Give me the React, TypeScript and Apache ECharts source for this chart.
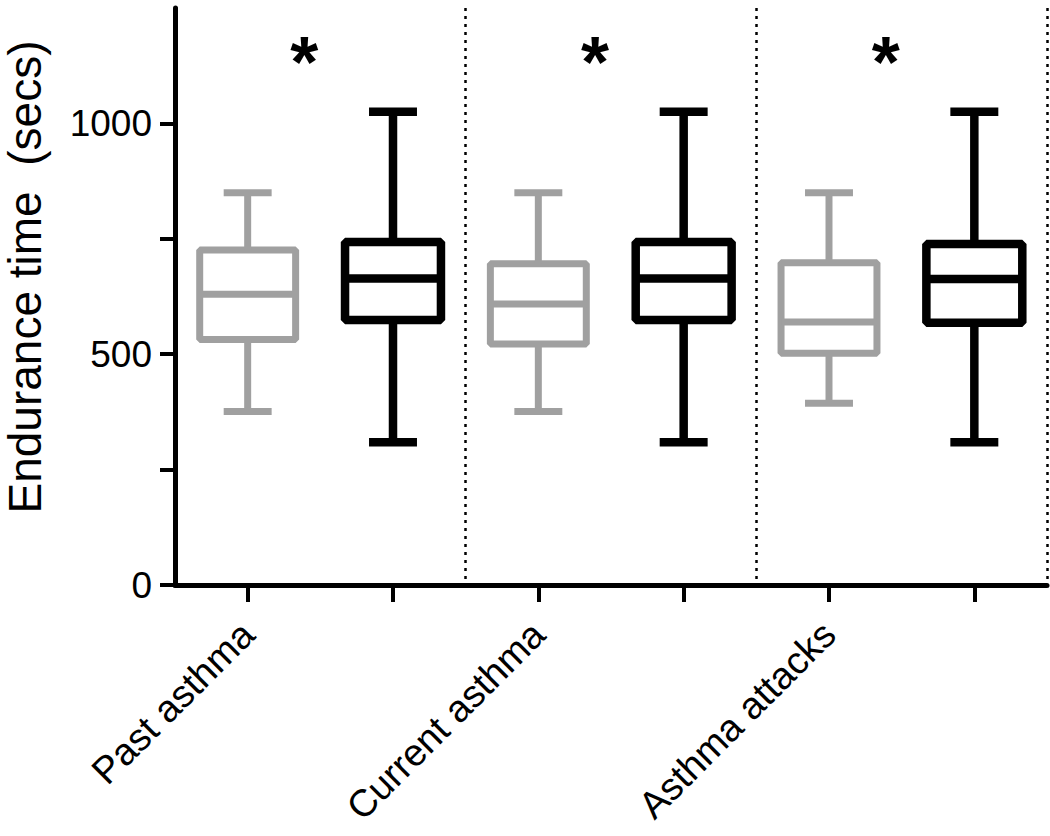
import React, { useEffect, useRef } from "react";
import * as echarts from "echarts";

const categories = ["Past asthma", "", "Current asthma", "", "Asthma attacks", ""];
const grayIdx = [0, 2, 4];
const blackIdx = [1, 3, 5];
const grayMin = [376, 376, 394];
const grayQ1 = [532, 522, 502];
const grayMed = [630, 609, 570];
const grayQ3 = [726, 696, 698];
const grayMax = [850, 850, 850];
const blackMin = [309, 309, 309];
const blackQ1 = [574, 574, 568];
const blackMed = [664, 664, 663];
const blackQ3 = [743, 743, 739];
const blackMax = [1025, 1025, 1025];
const sigIdx = [0, 2, 4];
const sigY = [1134, 1134, 1134];
const yTicks = [0, 250, 500, 750, 1000];
const yLabels = [0, 500, 1000];
const yTitle = "Endurance time  (secs)";

const FONT = "'Liberation Sans', Arial, sans-serif";

function makeBoxRender(color: string, lw: number) {
  return (params: any, api: any) => {
    const x = api.value(0);
    const band = api.size([1, 0])[0];
    const cx = api.coord([x, 0])[0];
    const yMin = api.coord([x, api.value(1)])[1];
    const yQ1 = api.coord([x, api.value(2)])[1];
    const yMed = api.coord([x, api.value(3)])[1];
    const yQ3 = api.coord([x, api.value(4)])[1];
    const yMax = api.coord([x, api.value(5)])[1];
    const bw = band * 0.66;
    const cw = band * 0.33;
    const st = { stroke: color, lineWidth: lw, fill: "none", lineJoin: "bevel" };
    return {
      type: "group",
      children: [
        { type: "rect", shape: { x: cx - bw / 2, y: yQ3, width: bw, height: yQ1 - yQ3 }, style: st },
        { type: "line", shape: { x1: cx - bw / 2, y1: yMed, x2: cx + bw / 2, y2: yMed }, style: st },
        { type: "line", shape: { x1: cx, y1: yQ3, x2: cx, y2: yMax }, style: st },
        { type: "line", shape: { x1: cx, y1: yQ1, x2: cx, y2: yMin }, style: st },
        { type: "line", shape: { x1: cx - cw / 2, y1: yMax, x2: cx + cw / 2, y2: yMax }, style: st },
        { type: "line", shape: { x1: cx - cw / 2, y1: yMin, x2: cx + cw / 2, y2: yMin }, style: st },
      ],
    };
  };
}

export default function App() {
  const ref = useRef<HTMLDivElement>(null);
  useEffect(() => {
    if (!ref.current) return;
    const chart = echarts.init(ref.current, null, { renderer: "svg" });
    const grayData = grayIdx.map((c, i) => [c, grayMin[i], grayQ1[i], grayMed[i], grayQ3[i], grayMax[i]]);
    const blackData = blackIdx.map((c, i) => [c, blackMin[i], blackQ1[i], blackMed[i], blackQ3[i], blackMax[i]]);
    const sigData = sigIdx.map((c, i) => [c, sigY[i]]);
    chart.setOption({
      animation: false,
      grid: { left: 175, right: 3, top: 8, bottom: 251, containLabel: false, outerBoundsMode: "none" },
      graphic: [
        {
          type: "text",
          x: 25,
          y: 277,
          rotation: Math.PI / 2,
          style: {
            text: yTitle,
            fontSize: 46,
            fontFamily: FONT,
            fill: "#000",
            align: "center",
            verticalAlign: "middle",
          },
        },
      ],
      xAxis: {
        type: "category",
        data: categories,
        boundaryGap: true,
        axisLine: { show: true, lineStyle: { color: "#000", width: 5 } },
        axisTick: { show: true, interval: 0, alignWithLabel: true, length: 17, lineStyle: { color: "#000", width: 4 } },
        axisLabel: { interval: 0, rotate: 45, fontSize: 38, margin: 43, color: "#000", fontFamily: FONT },
        splitLine: {
          show: true,
          interval: (i: number) => i === 2 || i === 4,
          lineStyle: { color: "#000", width: 2.5, type: [3, 5] },
        },
      },
      yAxis: {
        type: "value",
        min: 0,
        max: 1250,
        interval: 250,
        axisLine: { show: true, lineStyle: { color: "#000", width: 5 } },
        axisTick: { show: true, customValues: yTicks, length: 15, lineStyle: { color: "#000", width: 4 } },
        axisLabel: {
          customValues: yLabels,
          fontSize: 37,
          margin: 23,
          color: "#000",
          fontFamily: FONT,
          formatter: (v: number) => String(v),
        },
        splitLine: { show: false },
      },
      series: [
        {
          type: "custom",
          name: "gray",
          renderItem: makeBoxRender("#a0a0a0", 7),
          encode: { x: 0, y: [1, 2, 3, 4, 5] },
          data: grayData,
        },
        {
          type: "custom",
          name: "black",
          renderItem: makeBoxRender("#000", 8.5),
          encode: { x: 0, y: [1, 2, 3, 4, 5] },
          data: blackData,
        },
        {
          type: "custom",
          name: "sig",
          renderItem: (params: any, api: any) => {
            const x = api.value(0);
            const band = api.size([1, 0])[0];
            const p = api.coord([x, api.value(1)]);
            return {
              type: "text",
              x: p[0] + band * 0.39,
              y: p[1],
              style: {
                text: "*",
                fontSize: 72,
                fontWeight: "bold",
                fontFamily: FONT,
                fill: "#000",
                align: "center",
                verticalAlign: "middle",
              },
            };
          },
          encode: { x: 0, y: 1 },
          data: sigData,
        },
      ],
    });
    return () => chart.dispose();
  }, []);
  return <div ref={ref} style={{ position: "absolute", left: 0, top: 0, width: 1050, height: 836 }} />;
}
